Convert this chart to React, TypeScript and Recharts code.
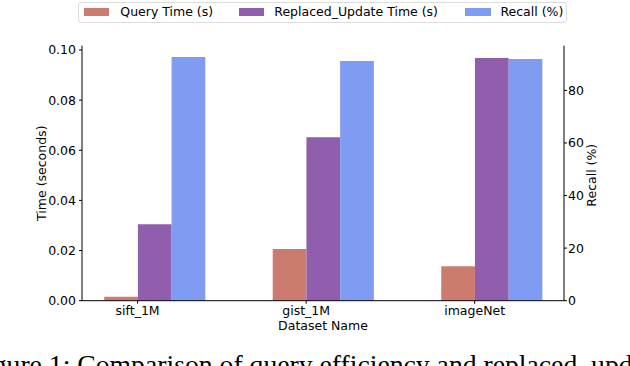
import React from "react";
import { Bar, BarChart, XAxis, YAxis } from "recharts";

const DATASETS = ["sift_1M", "gist_1M", "imageNet"];
const QUERY_TIME = [0.0016, 0.0206, 0.0137];
const UPDATE_TIME = [0.0305, 0.0652, 0.0968];
const RECALL = [92.7, 91.2, 91.9];

const TIME_TICKS = [0, 0.02, 0.04, 0.06, 0.08, 0.1];
const RECALL_TICKS = [0, 20, 40, 60, 80];

// bars are edge-aligned in the source plot: group starts one bar left of the tick
const GROUP_SHIFT = 0.1;

const data = DATASETS.map((name, i) => ({
  name,
  pos: i + GROUP_SHIFT,
  query: QUERY_TIME[i],
  update: UPDATE_TIME[i],
  recall: RECALL[i],
}));

const FONT = "'DejaVu Sans', sans-serif";
const tickStyle = { fill: "#000", fontSize: 12.5, fontFamily: FONT };

const COLORS = {
  query: "#cc7b6f",
  update: "#915ead",
  recall: "#7f9bf2",
};

const legendItems = [
  { label: "Query Time (s)", color: COLORS.query, patch: 4.4, text: 41 },
  { label: "Replaced_Update Time (s)", color: COLORS.update, patch: 159.4, text: 195 },
  { label: "Recall (%)", color: COLORS.recall, patch: 386, text: 421.1 },
];

function LegendBox() {
  return (
    <div
      style={{
        position: "absolute",
        left: 78.3,
        top: 1.5,
        width: 489,
        height: 21,
        border: "1px solid #dcdcdc",
        borderRadius: 3,
        boxSizing: "border-box",
        background: "rgba(255,255,255,0.8)",
        fontFamily: FONT,
        fontSize: 12.5,
        color: "#000",
      }}
    >
      {legendItems.map((it) => (
        <React.Fragment key={it.label}>
          <div
            style={{
              position: "absolute",
              left: it.patch,
              top: 5.5,
              width: 25.6,
              height: 8,
              background: it.color,
            }}
          />
          <div
            style={{
              position: "absolute",
              left: it.text,
              top: 1.5,
              lineHeight: "15px",
              whiteSpace: "nowrap",
            }}
          >
            {it.label}
          </div>
        </React.Fragment>
      ))}
    </div>
  );
}

export default function App() {
  return (
    <div
      style={{
        position: "absolute",
        left: 0,
        top: 0,
        width: 630,
        height: 366,
        overflow: "hidden",
        background: "#fff",
      }}
    >
      <BarChart
        width={630}
        height={366}
        data={data}
        margin={{ top: 45.7, right: 0, bottom: 34.3, left: 0 }}
        barGap={0}
        barSize={33.7}
      >
        <XAxis
          type="number"
          dataKey="pos"
          domain={[-0.33, 2.53]}
          allowDataOverflow
          ticks={[0, 1, 2]}
          tickFormatter={(v: number) => DATASETS[v] ?? ""}
          tick={tickStyle}
          tickSize={3}
          tickMargin={2}
          stroke="#000"
          height={31}
          label={{
            value: "Dataset Name",
            position: "insideBottom",
            offset: 1.5,
            style: { fill: "#000", fontSize: 12.5, fontFamily: FONT },
          }}
        />
        <XAxis
          xAxisId="top"
          orientation="top"
          type="number"
          dataKey="pos"
          domain={[-0.33, 2.53]}
          allowDataOverflow
          tick={false}
          tickLine={false}
          stroke="#000"
          height={0}
        />
        <YAxis
          yAxisId="left"
          domain={[0, 0.1017]}
          allowDataOverflow
          ticks={TIME_TICKS}
          tickFormatter={(v: number) => v.toFixed(2)}
          tick={tickStyle}
          tickSize={3}
          tickMargin={3}
          stroke="#000"
          width={82}
          label={{
            value: "Time (seconds)",
            angle: -90,
            position: "center",
            dx: 0.5,
            style: { fill: "#000", fontSize: 12.5, fontFamily: FONT, textAnchor: "middle" },
          }}
        />
        <YAxis
          yAxisId="right"
          orientation="right"
          domain={[0, 97]}
          allowDataOverflow
          ticks={RECALL_TICKS}
          tick={tickStyle}
          tickSize={3}
          tickMargin={1}
          stroke="#000"
          width={66}
          label={{
            value: "Recall (%)",
            angle: -90,
            position: "center",
            dx: -5,
            dy: 2,
            style: { fill: "#000", fontSize: 12.5, fontFamily: FONT, textAnchor: "middle" },
          }}
        />
        <Bar
          dataKey="query"
          yAxisId="left"
          fill={COLORS.query}
          isAnimationActive={false}
        />
        <Bar
          dataKey="update"
          yAxisId="left"
          fill={COLORS.update}
          isAnimationActive={false}
        />
        <Bar
          dataKey="recall"
          yAxisId="right"
          fill={COLORS.recall}
          isAnimationActive={false}
        />
      </BarChart>
      <LegendBox />
      <svg
        width={630}
        height={366}
        style={{ position: "absolute", left: 0, top: 0, pointerEvents: "none" }}
      >
        <text
          x={-30.4}
          y={374.3}
          style={{ fontFamily: "'Liberation Serif', serif", fontSize: 27.7, fill: "#000" }}
        >
          Figure 1: Comparison of query efficiency and replaced_update time
        </text>
      </svg>
    </div>
  );
}
